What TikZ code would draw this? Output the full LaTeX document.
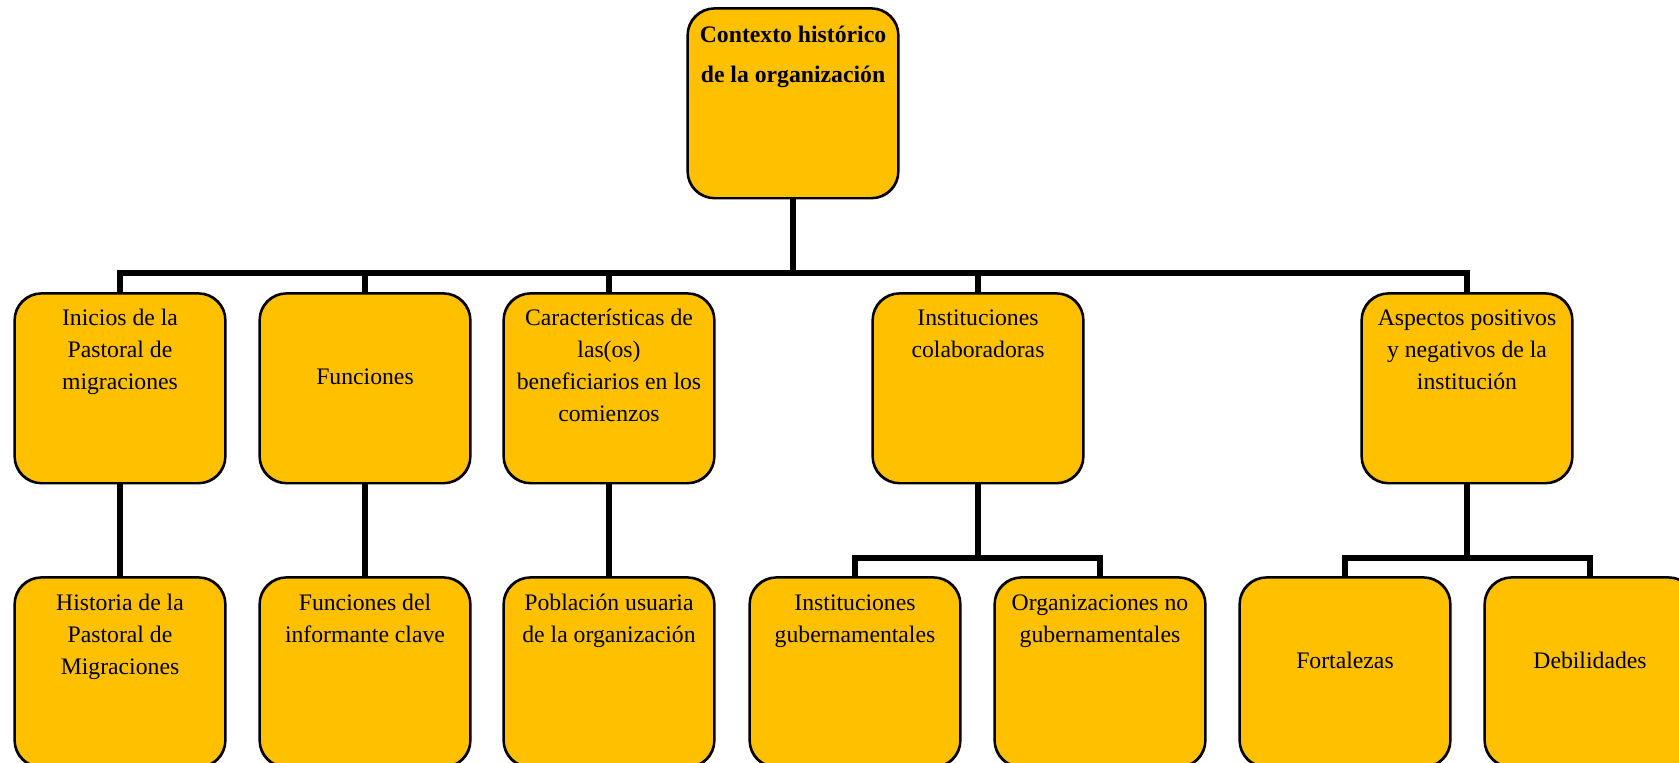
\documentclass[tikz,border=0pt]{standalone}
\usepackage{fontspec}
\setmainfont{Liberation Serif}
\definecolor{gold}{HTML}{FFC000}
\begin{document}
\begin{tikzpicture}[x=1pt,y=-1pt,
  box/.style={draw=black, line width=1.6pt, fill=gold, rounded corners=27pt,
    minimum width=210pt, minimum height=189pt, inner sep=0pt, anchor=north},
  txt/.style={font=\fontsize{23.7}{32}\selectfont, align=center, inner sep=0pt, anchor=north},
  ttl/.style={font=\fontsize{23.7}{40}\selectfont\bfseries, align=center, inner sep=0pt, anchor=north},
  conn/.style={line width=6pt}]
\clip (0,0) rectangle (1679,763);
\fill[white] (0,0) rectangle (1679,763);
% connectors
\coordinate (bus) at (0,273);
\coordinate (busA) at (0,558);
% boxes
\node[box] (top) at (793,8) {};
\node[box] (b1) at (120,293) {};
\node[box] (b2) at (365,293) {};
\node[box] (b3) at (609,293) {};
\node[box] (b4) at (978,293) {};
\node[box] (b5) at (1467,293) {};
\node[box] (c1) at (120,577) {};
\node[box] (c2) at (365,577) {};
\node[box] (c3) at (609,577) {};
\node[box] (c4) at (855,577) {};
\node[box] (c5) at (1100,577) {};
\node[box] (c6) at (1345,577) {};
\node[box] (c7) at (1590,577) {};
% lines
\draw[conn] (top.south) -- (top.south |- bus);
\draw[conn] (b1.north) -- (b1.north |- bus) -- (b5.north |- bus) -- (b5.north);
\foreach \n in {b2,b3,b4} \draw[conn] (\n.north) -- (\n.north |- bus);
\draw[conn] (b1.south) -- (c1.north);
\draw[conn] (b2.south) -- (c2.north);
\draw[conn] (b3.south) -- (c3.north);
\draw[conn] (b4.south) -- (b4.south |- busA);
\draw[conn] (c4.north) -- (c4.north |- busA) -- (c5.north |- busA) -- (c5.north);
\draw[conn] (b5.south) -- (b5.south |- busA);
\draw[conn] (c6.north) -- (c6.north |- busA) -- (c7.north |- busA) -- (c7.north);
% redraw boxes borders over line ends
\foreach \n in {top,b1,b2,b3,b4,b5,c1,c2,c3,c4,c5,c6,c7}
  \draw[line width=1.6pt, rounded corners=27pt] (\n.north west) rectangle (\n.south east);
% texts
\node[ttl] (ttop) at (793,14) {\strut Contexto histórico\\de la organización};
\node[txt] (tb1) at (120,302.6) {\strut Inicios de la\\Pastoral de\\migraciones};
\node[txt] (tb2) at (365,361.6) {\strut Funciones};
\node[txt] (tb3) at (609,302.6) {\strut Características de\\las(os)\\beneficiarios en los\\comienzos};
\node[txt] (tb4) at (978,302.6) {\strut Instituciones\\colaboradoras};
\node[txt] (tb5) at (1467,302.6) {\strut Aspectos positivos\\y negativos de la\\institución};
\node[txt] (tc1) at (120,587.6) {\strut Historia de la\\Pastoral de\\Migraciones};
\node[txt] (tc2) at (365,587.6) {\strut Funciones del\\informante clave};
\node[txt] (tc3) at (609,587.6) {\strut Población usuaria\\de la organización};
\node[txt] (tc4) at (855,587.6) {\strut Instituciones\\gubernamentales};
\node[txt] (tc5) at (1100,587.6) {\strut Organizaciones no\\gubernamentales};
\node[txt] (tc6) at (1345,645.6) {\strut Fortalezas};
\node[txt] (tc7) at (1590,645.6) {\strut Debilidades};
\end{tikzpicture}
\end{document}
